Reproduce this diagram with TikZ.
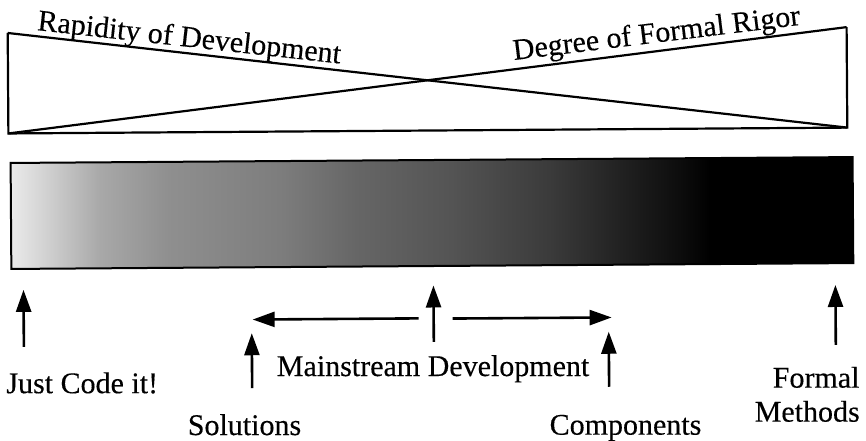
\documentclass[tikz,border=0pt]{standalone}
\usepackage{fontspec}
\setmainfont{Liberation Serif}[FakeBold=0.3]
\usetikzlibrary{arrows.meta}

% light-to-dark ramp for the spectrum bar (path spans 25bp..75bp)
\pgfdeclarehorizontalshading{spectrum}{100bp}{
  color(0bp)=(black!8);
  color(25bp)=(black!8);
  color(26.7bp)=(black!16);
  color(30.3bp)=(black!34);
  color(34.4bp)=(black!44);
  color(41bp)=(black!51);
  color(45.5bp)=(black!60);
  color(51.1bp)=(black!67);
  color(57bp)=(black!77);
  color(61.2bp)=(black!87);
  color(64.7bp)=(black!95);
  color(66.5bp)=(black);
  color(100bp)=(black)}

\tikzset{
  outline/.style={line width=2.2pt, line join=miter},
  caption/.style={inner sep=0pt, text depth=0pt, font=\fontsize{30}{34}\selectfont},
  pointer/.style={line width=2.6pt, -{Triangle[length=22pt,width=15pt]}},
}

\begin{document}
\begin{tikzpicture}[x=1pt, y=-1pt]
  \useasboundingbox (0,0) rectangle (866,440);
  \fill[white] (0,0) rectangle (866,440);

  \begin{scope}[rotate around={0.4:(433,220)}]
    % the crossed wedges
    \coordinate (tl) at (9,30);
    \coordinate (tr) at (848,30);
    \coordinate (bl) at (9,130.5);
    \coordinate (br) at (848,130.5);
    \draw[outline] (tl) -- (bl) -- (br) -- (tr);
    \draw[outline] (tl) -- (br);
    \draw[outline] (bl) -- (tr);

    \node[caption, anchor=base west, rotate=-6.3] (rapid) at (38,27.3)
      {Rapidity of Development};
    \node[caption, anchor=base west, rotate=7.0] (rigor) at (515,60.6)
      {Degree of Formal Rigor};

    % spectrum bar
    \shade[shading=spectrum, draw, line width=2pt] (11,160) rectangle (853,266);

    % pointers
    \coordinate (jc-tail) at (23,344);
    \coordinate (jc-tip) at (23,287);
    \coordinate (ms-tail) at (433,342);
    \coordinate (ms-tip) at (433,285.5);
    \coordinate (fm-tail) at (835,347.8);
    \coordinate (fm-tip) at (835,287.8);
    \coordinate (so-tail) at (251,387);
    \coordinate (so-tip) at (251,332);
    \coordinate (co-tail) at (608,388);
    \coordinate (co-tip) at (608,333);
    \coordinate (lh-tail) at (418,318.3);
    \coordinate (lh-tip) at (252,318.3);
    \coordinate (rh-tail) at (452,318.7);
    \coordinate (rh-tip) at (611,318.7);

    \draw[pointer] (jc-tail) -- (jc-tip);
    \draw[pointer] (ms-tail) -- (ms-tip);
    \draw[pointer] (fm-tail) -- (fm-tip);
    \draw[pointer] (so-tail) -- (so-tip);
    \draw[pointer] (co-tail) -- (co-tip);
    \draw[pointer] (lh-tail) -- (lh-tip);
    \draw[pointer] (rh-tail) -- (rh-tip);

    % labels
    \node[caption, anchor=base west] (justcode) at (5,390.2) {Just Code it!};
    \node[caption, anchor=base] (mainstream) at (432,376) {Mainstream Development};
    \node[caption, anchor=base] (solutions) at (243,433.7) {Solutions};
    \node[caption, anchor=base] (components) at (624,436) {Components};
    \node[caption, anchor=base east] (formal) at (858.5,390.6) {Formal};
    \node[caption, anchor=base east] (methods) at (858.5,424.6) {Methods};
  \end{scope}
\end{tikzpicture}
\end{document}
